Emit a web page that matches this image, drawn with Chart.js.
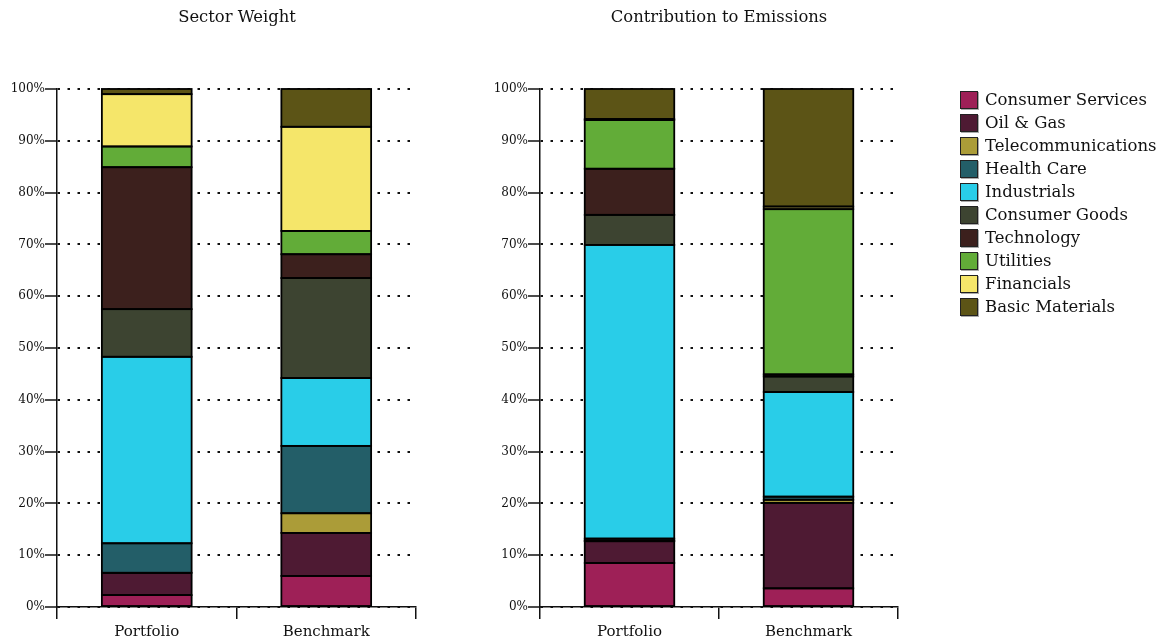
<!DOCTYPE html>
<html>
<head>
<meta charset="utf-8">
<script src="https://cdn.jsdelivr.net/npm/chart.js@4.4.0/dist/chart.umd.min.js"></script>
<style>
  body { margin: 0; background: #fff; width: 1162px; height: 644px; position: relative; overflow: hidden; }
  canvas { position: absolute; top: 0; }
  #weightChart { left: 0; }
  #emissionsChart { left: 474px; }
  #legend { position: absolute; left: 960px; top: 88px; margin: 0; padding: 0; list-style: none;
            font-family: 'DejaVu Serif', serif; font-size: 16.5px; color: #111; }
  #legend li { height: 23px; display: flex; align-items: center; white-space: nowrap; }
  #legend span.box { width: 18px; height: 18px; border: 1.5px solid #222; box-shadow: 1px 1px 0 #aaa;
                     margin-right: 7px; box-sizing: border-box; flex: none; }
</style>
</head>
<body>
<canvas id="weightChart" width="474" height="644"></canvas>
<canvas id="emissionsChart" width="490" height="644"></canvas>
<ul id="legend"></ul>
<script>
// categories and sectors
const categories = ['Portfolio', 'Benchmark'];
const sectors = ['Consumer Services', 'Oil & Gas', 'Telecommunications', 'Health Care', 'Industrials',
                 'Consumer Goods', 'Technology', 'Utilities', 'Financials', 'Basic Materials'];
const sectorColors = ['#9e2057', '#4e1a33', '#ab9c38', '#235e68', '#29cde8',
                      '#3d4431', '#3c201d', '#62ac38', '#f5e66a', '#5c5416'];

// values in %, one per sector (same order as sectors)
const weightPortfolio    = [2.3, 4.3, 0.0, 5.7, 36.0, 9.2, 27.4, 4.0, 10.1, 1.0];
const weightBenchmark    = [6.0, 8.3, 3.8, 13.0, 13.1, 19.3, 4.6, 4.5, 20.1, 7.3];
const emissionsPortfolio = [8.5, 4.2, 0.1, 0.4, 56.7, 5.8, 8.9, 9.4, 0.2, 5.8];
const emissionsBenchmark = [3.6, 16.5, 0.6, 0.6, 20.2, 3.0, 0.4, 31.9, 0.5, 22.7];

const yTicks = [0, 10, 20, 30, 40, 50, 60, 70, 80, 90, 100];

const FONT = "'DejaVu Serif', serif";
const INK = '#111';

// outline every bar segment with one centred stroke, so neighbouring segments share a single line
const segmentOutline = {
    id: 'segmentOutline',
    afterDatasetsDraw(chart) {
        const ctx = chart.ctx;
        ctx.save();
        ctx.lineWidth = 1.8;
        ctx.strokeStyle = '#000';
        chart.data.datasets.forEach((ds, i) => {
            chart.getDatasetMeta(i).data.forEach(bar => {
                const p = bar.getProps(['x', 'y', 'base', 'width'], true);
                ctx.strokeRect(p.x - p.width / 2, Math.min(p.y, p.base), p.width, Math.abs(p.base - p.y));
            });
        });
        ctx.restore();
    }
};

function buildDatasets(portfolio, benchmark) {
    return sectors.map((name, i) => ({
        label: name,
        data: [portfolio[i], benchmark[i]],
        backgroundColor: sectorColors[i],
        borderWidth: 0,
        barPercentage: 0.5,
        categoryPercentage: 1.0
    }));
}

function makeChart(id, title, portfolio, benchmark, axisWidth, rightSpace) {
    return new Chart(document.getElementById(id), {
        type: 'bar',
        data: { labels: categories, datasets: buildDatasets(portfolio, benchmark) },
        plugins: [segmentOutline],
        options: {
            responsive: false,
            animation: false,
            devicePixelRatio: 1,
            layout: { padding: 0 },
            plugins: {
                legend: { display: false },
                tooltip: { enabled: false },
                title: {
                    display: true,
                    text: title,
                    color: INK,
                    font: { family: FONT, size: 16.4, weight: 'normal', lineHeight: 1.2 },
                    padding: { top: 8, bottom: 61.3 }
                }
            },
            scales: {
                x: {
                    stacked: true,
                    offset: true,
                    grid: { offset: true, drawOnChartArea: false, drawTicks: true, tickLength: 12,
                            color: INK, lineWidth: 1.5 },
                    border: { display: true, color: INK, width: 1.5 },
                    ticks: { color: INK, padding: 4, font: { family: FONT, size: 15 } },
                    afterFit: scale => { scale.height = 37; }
                },
                y: {
                    stacked: true,
                    min: 0,
                    max: 100,
                    afterBuildTicks: scale => { scale.ticks = yTicks.map(v => ({ value: v })); },
                    grid: { color: INK, lineWidth: 2, tickLength: 12, tickBorderDash: [],
                            tickColor: INK, tickWidth: 1.5 },
                    border: { display: true, color: INK, width: 1.5, dash: [2.5, 7.5] },
                    ticks: { color: INK, padding: 0, font: { family: FONT, size: 12 },
                             callback: v => v + '%' },
                    afterFit: scale => { scale.width = axisWidth; }
                },
                // empty right-hand axis, only reserves room so the title stays centred on the plot
                spacer: {
                    position: 'right',
                    display: true,
                    min: 0,
                    max: 100,
                    grid: { display: false },
                    border: { display: false },
                    ticks: { display: false },
                    afterFit: scale => { scale.width = rightSpace; }
                }
            }
        }
    });
}

makeChart('weightChart', 'Sector Weight', weightPortfolio, weightBenchmark, 57, 58);
makeChart('emissionsChart', 'Contribution to Emissions', emissionsPortfolio, emissionsBenchmark, 66, 66);

// legend
const legend = document.getElementById('legend');
sectors.forEach((name, i) => {
    const li = document.createElement('li');
    li.innerHTML = '<span class="box" style="background:' + sectorColors[i] + '"></span>' + name;
    legend.appendChild(li);
});
</script>
</body>
</html>
